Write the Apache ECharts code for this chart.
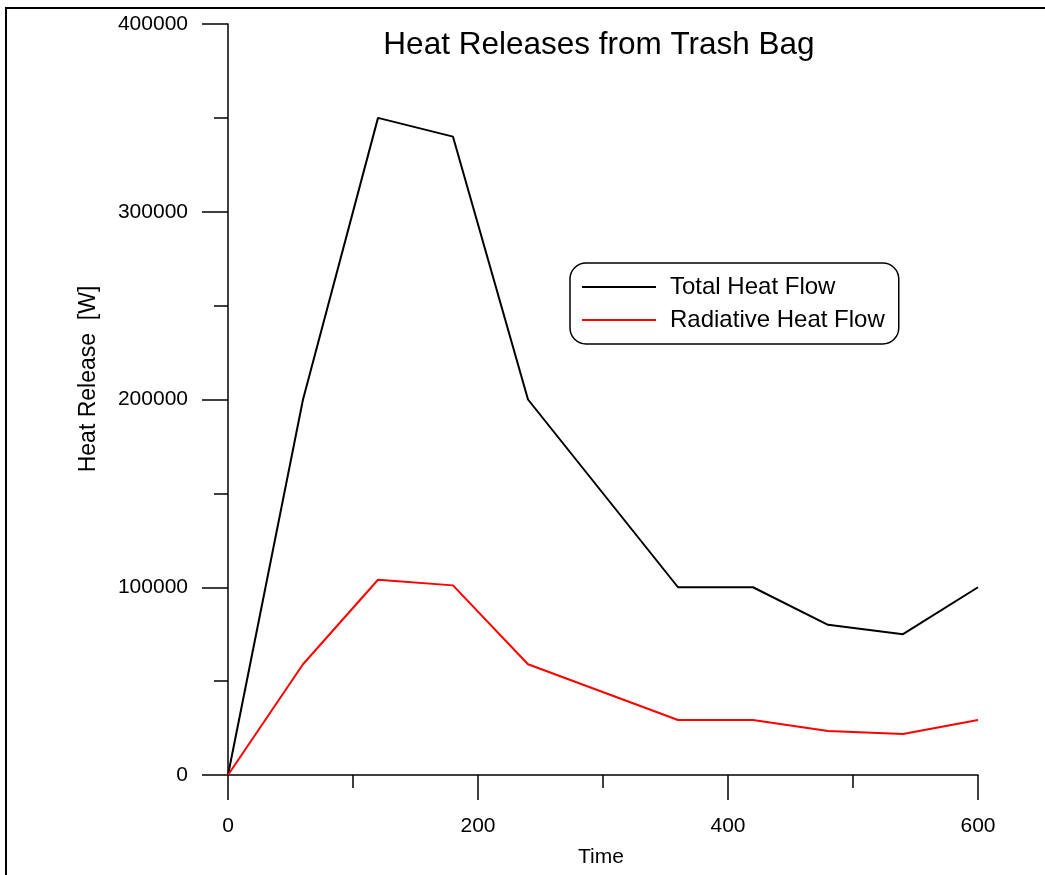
<!DOCTYPE html>
<html>
<head>
<meta charset="utf-8">
<script src="https://cdn.jsdelivr.net/npm/echarts@6/dist/echarts.min.js"></script>
<style>
html,body{margin:0;padding:0;background:#fff;}
#chart{width:1045px;height:875px;}
</style>
</head>
<body>
<div id="chart"></div>
<script>
const times = [0, 60, 120, 180, 240, 360, 420, 480, 540, 600];
const totalHeat = [0, 200000, 350000, 340000, 200000, 100000, 100000, 80000, 75000, 100000];
const radiativeHeat = [0, 59000, 104000, 101000, 59000, 29300, 29300, 23400, 21800, 29300];
const seriesNames = ['Total Heat Flow', 'Radiative Heat Flow'];
const titleText = 'Heat Releases from Trash Bag';
const xName = 'Time';
const yName = 'Heat Release  [W]';

const font = 'Liberation Sans, Arial, sans-serif';
const chart = echarts.init(document.getElementById('chart'));
const pair = (xs, ys) => xs.map((x, i) => [x, ys[i]]);

chart.setOption({
  animation: false,
  backgroundColor: '#fff',
  grid: { left: 228, right: 67, top: 24, bottom: 100, containLabel: false },
  legend: {
    orient: 'vertical',
    left: 570, top: 263,
    padding: [12, 14, 12, 12],
    icon: 'rect',
    itemWidth: 74, itemHeight: 2, itemGap: 9,
    backgroundColor: '#fff',
    borderColor: '#000', borderWidth: 1.5, borderRadius: 16,
    textStyle: { fontFamily: font, fontSize: 24, lineHeight: 24, color: '#000', padding: [0, 0, 0, 9] },
    data: seriesNames
  },
  xAxis: {
    type: 'value', min: 0, max: 600, interval: 200,
    axisLine: { show: true, onZero: false, lineStyle: { color: '#000', width: 1.5 } },
    axisTick: { show: true, inside: false, length: 25, lineStyle: { color: '#000', width: 1.5 } },
    minorTick: { show: true, splitNumber: 2, length: 13, lineStyle: { color: '#000', width: 1.5 } },
    axisLabel: { margin: 41, fontFamily: font, fontSize: 21, color: '#000', formatter: v => String(v) },
    splitLine: { show: false }, minorSplitLine: { show: false }
  },
  yAxis: {
    type: 'value', min: 0, max: 400000, interval: 100000,
    axisLine: { show: true, lineStyle: { color: '#000', width: 1.5 } },
    axisTick: { show: true, inside: false, length: 26, lineStyle: { color: '#000', width: 1.5 } },
    minorTick: { show: true, splitNumber: 2, length: 14, lineStyle: { color: '#000', width: 1.5 } },
    axisLabel: { margin: 40, fontFamily: font, fontSize: 21, color: '#000', formatter: v => String(v),
      padding: [3, 0, 0, 0] },
    splitLine: { show: false }, minorSplitLine: { show: false }
  },
  series: [
    { name: seriesNames[0], type: 'line', symbol: 'none', data: pair(times, totalHeat),
      lineStyle: { color: '#000', width: 2 }, itemStyle: { color: '#000' } },
    { name: seriesNames[1], type: 'line', symbol: 'none', data: pair(times, radiativeHeat),
      lineStyle: { color: '#ff0000', width: 2 }, itemStyle: { color: '#ff0000' } }
  ],
  graphic: [
    { type: 'rect', shape: { x: 6, y: 8, width: 2000, height: 2000 }, silent: true,
      style: { fill: 'none', stroke: '#000', lineWidth: 2 } },
    { type: 'text', x: 599, y: 45, silent: true,
      style: { text: titleText, fontFamily: font, fontSize: 31.5, fill: '#000', align: 'center', verticalAlign: 'middle' } },
    { type: 'text', x: 601, y: 857, silent: true,
      style: { text: xName, fontFamily: font, fontSize: 21, fill: '#000', align: 'center', verticalAlign: 'middle' } },
    { type: 'text', x: 89, y: 379, rotation: Math.PI / 2, silent: true,
      style: { text: yName, fontFamily: font, fontSize: 23, fill: '#000', align: 'center', verticalAlign: 'middle' } }
  ]
});
</script>
</body>
</html>
